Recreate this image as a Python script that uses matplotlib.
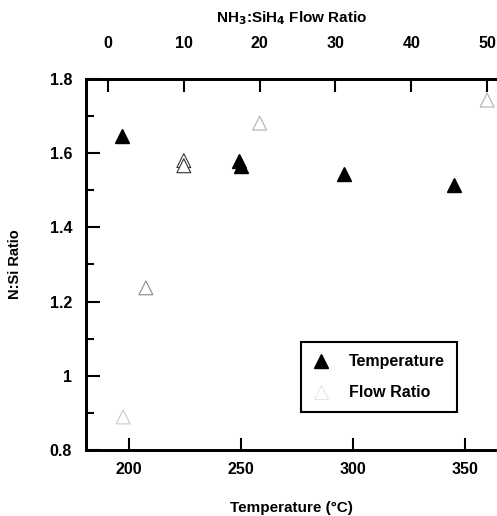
import matplotlib.pyplot as plt
import numpy as np

plt.rcParams['font.family'] = ['Liberation Sans', 'DejaVu Sans']
plt.rcParams['font.weight'] = 'bold'
plt.rcParams['axes.labelweight'] = 'bold'
plt.rcParams['mathtext.default'] = 'bf'

# N:Si ratio vs deposition temperature
temp_c = [197, 249, 250, 296, 345]
temp_nsi = [1.645, 1.578, 1.566, 1.544, 1.514]

# N:Si ratio vs NH3:SiH4 flow ratio
flow = [2, 5, 10, 10, 20, 50]
flow_nsi = [0.889, 1.237, 1.580, 1.566, 1.681, 1.743]
flow_edge = ['#c8c8c8', '#8a8a8a', '#333333', '#333333', '#b0b0b0', '#b0b0b0']

fig = plt.figure(figsize=(4.97, 5.16), dpi=100)
ax = fig.add_axes([0.173, 0.128, 0.827, 0.719])
ax2 = ax.twiny()

ax.plot(temp_c, temp_nsi, 'k^', ms=10, label='Temperature')
ax2.scatter(flow, flow_nsi, marker='^', s=100, facecolors='white',
            edgecolors=flow_edge, linewidths=0.8, zorder=3)

ax.set_xlim(180.8, 364.3)
ax.set_ylim(0.8, 1.8)
ax2.set_xlim(-2.9, 51.3)

ax.set_xticks([200, 250, 300, 350])
ax.set_yticks(np.arange(0.8, 1.81, 0.2))
ax.set_yticklabels(['0.8', '1', '1.2', '1.4', '1.6', '1.8'])
ax.set_yticks(np.arange(0.9, 1.8, 0.2), minor=True)
ax2.set_xticks([0, 10, 20, 30, 40, 50])

ax.tick_params(axis='x', direction='in', length=9, width=1.5, labelsize=11.5, pad=9)
ax.tick_params(axis='y', which='major', direction='in', length=10, width=1.5, labelsize=11.5, pad=10)
ax.tick_params(axis='y', which='minor', direction='in', length=6, width=1.5)
ax2.tick_params(axis='x', direction='in', length=9, width=1.5, labelsize=11.5, pad=20)

for a in (ax, ax2):
    for s in ['left', 'bottom', 'top']:
        a.spines[s].set_linewidth(2)
    a.spines['right'].set_visible(False)

ax.set_ylabel('N:Si Ratio', fontsize=10.5, labelpad=20)
ax.set_xlabel('Temperature (\u00b0C)', fontsize=11, labelpad=17)
ax2.set_xlabel('NH$_3$:SiH$_4$ Flow Ratio', fontsize=11, labelpad=10)

flow_handle = plt.Line2D([], [], ls='none', marker='^', ms=10, mfc='white',
                         mec='#e0e0e0', mew=0.6)
temp_handle = plt.Line2D([], [], ls='none', marker='^', ms=10, color='k')
leg = ax.legend([temp_handle, flow_handle], ['Temperature', 'Flow Ratio'],
                loc='lower right', bbox_to_anchor=(0.903, 0.102), borderaxespad=0,
                fancybox=False, edgecolor='black', framealpha=1, fontsize=11.5,
                handlelength=1.0, handletextpad=1.3, borderpad=0.75,
                labelspacing=1.0)
leg.get_frame().set_linewidth(1.5)

fig.savefig('out.png', dpi=100)
